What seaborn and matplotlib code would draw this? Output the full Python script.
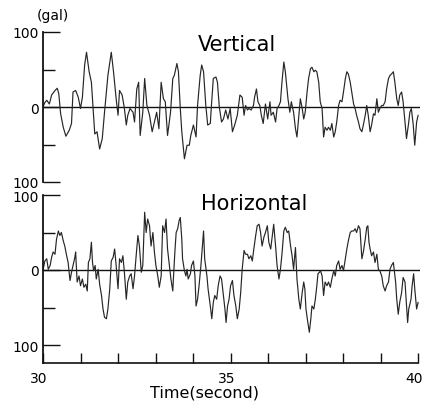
import numpy as np
import pandas as pd
import matplotlib
matplotlib.use("Agg")
import matplotlib.pyplot as plt
import matplotlib.transforms as mtransforms
import seaborn as sns

# ---------------- data ----------------
vert_t = [30.00, 30.05, 30.10, 30.17, 30.23, 30.32, 30.38, 30.42, 30.47, 30.54,
          30.61, 30.70, 30.76, 30.80, 30.87, 30.94, 31.00, 31.05, 31.11, 31.16,
          31.23, 31.29, 31.33, 31.38, 31.44, 31.51, 31.58, 31.64, 31.73, 31.82,
          31.88, 31.95, 32.00, 32.04, 32.11, 32.17, 32.22, 32.26, 32.32, 32.40,
          32.44, 32.50, 32.55, 32.59, 32.66, 32.71, 32.77, 32.84, 32.91, 32.97,
          33.03, 33.09, 33.15, 33.21, 33.26, 33.32, 33.40, 33.46, 33.50, 33.57,
          33.61, 33.66, 33.70, 33.77, 33.84, 33.90, 33.94, 34.01, 34.08, 34.12,
          34.19, 34.23, 34.28, 34.34, 34.39, 34.46, 34.49, 34.54, 34.61, 34.65,
          34.70, 34.76, 34.81, 34.87, 34.93, 34.99, 35.05, 35.11, 35.18, 35.25,
          35.31, 35.36, 35.40, 35.45, 35.49, 35.55, 35.61, 35.64, 35.69, 35.73,
          35.78, 35.82, 35.87, 35.93, 35.99, 36.05, 36.08, 36.14, 36.20, 36.24,
          36.29, 36.33, 36.37, 36.42, 36.46, 36.53, 36.58, 36.62, 36.68, 36.73,
          36.77, 36.82, 36.86, 36.91, 36.95, 36.99, 37.04, 37.08, 37.13, 37.17,
          37.22, 37.26, 37.30, 37.35, 37.39, 37.44, 37.48, 37.52, 37.57, 37.61,
          37.66, 37.70, 37.75, 37.79, 37.83, 37.88, 37.92, 37.97, 38.01, 38.06,
          38.10, 38.14, 38.19, 38.23, 38.28, 38.32, 38.36, 38.41, 38.45, 38.50,
          38.54, 38.59, 38.63, 38.67, 38.72, 38.76, 38.81, 38.85, 38.90, 38.94,
          38.98, 39.03, 39.07, 39.12, 39.16, 39.21, 39.25, 39.29, 39.34, 39.38,
          39.43, 39.47, 39.51, 39.56, 39.60, 39.65, 39.69, 39.74, 39.78, 39.82,
          39.87, 39.91, 39.96, 40.00]
vert_v = [0, 6, 9, 4, 16, 22, 25, 18, -9, -27,
          -39, -31, -22, 20, 22, 13, -2, 13, 56, 73,
          47, 33, 2, -36, -33, -56, -42, -7, 42, 73,
          47, 11, -11, 22, 16, -2, -24, -11, -2, -7,
          -20, 24, 33, -38, -7, 38, 2, -11, -33, -20,
          -7, -29, 33, 11, 7, -38, -7, 38, 42, 58,
          47, -2, -33, -69, -51, -51, -38, -24, -40, 2,
          42, 56, 47, 2, -24, -22, 2, 38, 40, 33,
          0, -20, -16, -4, -16, -2, -33, -24, -11, 16,
          13, -11, 2, -4, -2, -4, 2, 13, 24, 7,
          2, -11, -22, 4, -16, 7, -11, -7, -20, -2,
          2, 7, 33, 60, 47, 11, -7, 7, -7, -29,
          -40, -11, 11, -2, -16, -7, 20, 38, 51, 53,
          47, 49, 47, 33, 7, -2, -40, -27, -31, -27,
          -31, -22, -40, -33, -20, 2, 9, 7, 20, 38,
          47, 44, 33, 20, 4, -2, -11, -20, -29, -33,
          -24, -11, 2, -11, -33, -24, -9, -11, 11, -7,
          -2, 2, 2, 7, 24, 38, 42, 44, 47, 33,
          11, 2, 16, 20, 7, -20, -42, -24, -7, -2,
          -24, -51, -20, -11]

horiz_t = [30.00, 30.05, 30.10, 30.14, 30.19, 30.23, 30.27, 30.32, 30.36, 30.41,
           30.45, 30.49, 30.54, 30.58, 30.63, 30.67, 30.72, 30.76, 30.80, 30.85,
           30.87, 30.91, 30.96, 31.00, 31.05, 31.09, 31.14, 31.18, 31.21, 31.25,
           31.29, 31.32, 31.35, 31.39, 31.42, 31.47, 31.51, 31.56, 31.60, 31.64,
           31.69, 31.73, 31.78, 31.82, 31.87, 31.91, 31.95, 32.00, 32.04, 32.09,
           32.13, 32.17, 32.22, 32.26, 32.31, 32.35, 32.40, 32.44, 32.48, 32.53,
           32.57, 32.62, 32.66, 32.71, 32.75, 32.79, 32.84, 32.88, 32.93, 32.97,
           33.01, 33.06, 33.10, 33.15, 33.19, 33.24, 33.28, 33.32, 33.37, 33.41,
           33.46, 33.48, 33.52, 33.55, 33.59, 33.63, 33.66, 33.70, 33.72, 33.77,
           33.81, 33.84, 33.87, 33.93, 33.96, 34.01, 34.05, 34.08, 34.12, 34.16,
           34.21, 34.25, 34.28, 34.31, 34.37, 34.40, 34.46, 34.50, 34.54, 34.58,
           34.63, 34.67, 34.72, 34.76, 34.81, 34.85, 34.88, 34.92, 34.96, 35.00,
           35.05, 35.09, 35.14, 35.18, 35.23, 35.27, 35.31, 35.36, 35.40, 35.45,
           35.49, 35.54, 35.58, 35.62, 35.67, 35.71, 35.76, 35.80, 35.84, 35.89,
           35.93, 35.98, 36.02, 36.07, 36.11, 36.15, 36.20, 36.24, 36.29, 36.33,
           36.37, 36.42, 36.46, 36.51, 36.55, 36.60, 36.64, 36.68, 36.73, 36.77,
           36.82, 36.86, 36.91, 36.95, 36.98, 37.01, 37.06, 37.10, 37.14, 37.17,
           37.22, 37.26, 37.30, 37.33, 37.37, 37.40, 37.44, 37.48, 37.52, 37.57,
           37.61, 37.66, 37.70, 37.75, 37.79, 37.83, 37.88, 37.92, 37.97, 38.01,
           38.06, 38.10, 38.14, 38.19, 38.23, 38.28, 38.32, 38.36, 38.41, 38.45,
           38.50, 38.54, 38.59, 38.63, 38.66, 38.69, 38.72, 38.76, 38.81, 38.85,
           38.90, 38.94, 38.98, 39.03, 39.07, 39.12, 39.16, 39.21, 39.25, 39.29,
           39.34, 39.36, 39.40, 39.43, 39.47, 39.51, 39.56, 39.60, 39.65, 39.69,
           39.72, 39.75, 39.81, 39.84, 39.88, 39.91, 39.96, 40.00]
horiz_v = [0, 12, 15, 1, 6, 17, 24, 21, 41, 52,
           46, 50, 39, 32, 19, 10, -14, -3, 6, 17,
           24, -16, -8, -21, -12, -23, -19, -28, 10, 15,
           37, 10, -1, 6, -12, 1, -19, -34, -52, -63,
           -65, -52, -25, 12, 17, 28, 6, -25, 15, 10,
           19, -3, -39, -16, -8, -5, -25, -8, 17, 46,
           32, -3, 6, 77, 50, 68, 59, 32, 50, 24,
           6, -8, -23, -8, 59, 50, 68, 28, 6, -12,
           -28, -8, 28, 50, 55, 66, 70, 41, 15, -1,
           -8, 1, -12, -5, 6, 12, -8, -48, -39, -21,
           6, 32, 52, 15, -8, -25, -48, -65, -43, -34,
           -39, -21, -8, -12, -34, -52, -70, -48, -39, -21,
           -14, -34, -48, -65, -52, -30, 1, 26, 21, 21,
           15, 19, 12, 28, 46, 59, 61, 50, 32, 44,
           50, 59, 37, 28, 44, 61, 32, 6, -12, 1,
           21, 52, 57, 50, 52, 32, 19, 1, 30, -12,
           -39, -52, -30, -16, -25, -52, -70, -83, -65, -48,
           -52, -39, -21, -5, -3, -1, -8, -34, -16, -21,
           -16, -23, -12, -1, -8, 6, 12, 1, 6, -1,
           15, 28, 39, 50, 52, 52, 55, 50, 59, 55,
           15, 24, 41, 57, 59, 37, 28, 19, 24, 10,
           21, 1, -1, -8, -21, -28, -21, -16, 1, 6,
           10, 1, -16, -39, -59, -43, -30, -10, -16, -48,
           -70, -52, -39, -21, -5, -25, -52, -43]

y_ticks = [-100, 0, 100]
y_tick_labels = ["100", "0", "100"]
y_minor = [-50, 50]
x_major = [30, 35, 40]
x_minor = [31, 32, 33, 34, 36, 37, 38, 39]

vert_df = pd.DataFrame({"time": vert_t, "gal": vert_v})
horiz_df = pd.DataFrame({"time": horiz_t, "gal": horiz_v})

# ---------------- figure ----------------
sns.set_theme(style="white")
plt.rcParams["font.family"] = ["DejaVu Sans"]
plt.rcParams["text.color"] = "black"
plt.rcParams["xtick.color"] = "black"
plt.rcParams["ytick.color"] = "black"
W, H = 430, 406
fig = plt.figure(figsize=(W / 100, H / 100), dpi=100)
fig.patch.set_facecolor("white")

ax1 = fig.add_axes([43 / W, 1 - 183 / H, 377 / W, 150 / H])
ax2 = fig.add_axes([43 / W, 1 - 364 / H, 377 / W, 168 / H])

trace_kw = dict(color="#262626", linewidth=0.85, estimator=None, sort=False)
sns.lineplot(data=vert_df, x="time", y="gal", ax=ax1, **trace_kw)
sns.lineplot(data=horiz_df, x="time", y="gal", ax=ax2, **trace_kw)

for ax in (ax1, ax2):
    ax.set_facecolor("white")
    ax.set_xlim(30, 40.05)
    ax.axhline(0, color="#111111", linewidth=1.0, zorder=1)
    ax.set_xlabel("")
    ax.set_ylabel("")
    ax.set_yticks(y_ticks)
    ax.set_yticklabels(y_tick_labels, fontsize=10, color="black")
    ax.set_yticks(y_minor, minor=True)
    ax.tick_params(axis="y", which="major", direction="in", length=12.5,
                   width=1.0, pad=3, left=True, color="#111111")
    ax.tick_params(axis="y", which="minor", direction="in", length=8.5,
                   width=1.0, left=True, color="#111111")
    for s in ("top", "right"):
        ax.spines[s].set_visible(False)
    ax.spines["left"].set_color("#111111")
    ax.spines["left"].set_linewidth(1.3)
    ax.grid(False)

ax1.set_ylim(-100, 100)
ax1.spines["bottom"].set_visible(False)
ax1.set_xticks([])

ax2.set_ylim(-124, 100)
ax2.spines["left"].set_bounds(-124, 100)
ax2.spines["bottom"].set_color("#111111")
ax2.spines["bottom"].set_linewidth(1.2)
ax2.spines["bottom"].set_bounds(30, 40)
ax2.set_xticks(x_major)
ax2.set_xticklabels([str(v) for v in x_major], fontsize=10, color="black")
ax2.set_xticks(x_minor, minor=True)
ax2.tick_params(axis="x", which="both", direction="in", length=7.5,
                width=1.0, bottom=True, pad=6, color="#111111")
offset = mtransforms.ScaledTranslation(-4 / 100, 0, fig.dpi_scale_trans)
for lab in ax2.get_xticklabels():
    lab.set_transform(lab.get_transform() + offset)

fig.text(53 / W, 1 - 16 / H, "(gal)", fontsize=10, ha="center", va="center", color="black")
fig.text(237 / W, 1 - 45 / H, "Vertical", fontsize=15, ha="center", va="center", color="black")
fig.text(254 / W, 1 - 204 / H, "Horizontal", fontsize=15, ha="center", va="center", color="black")
fig.text(205 / W, 1 - 393 / H, "Time(second)", fontsize=11.5, ha="center", va="center", color="black")

fig.savefig("out.png", dpi=100, facecolor="white")
